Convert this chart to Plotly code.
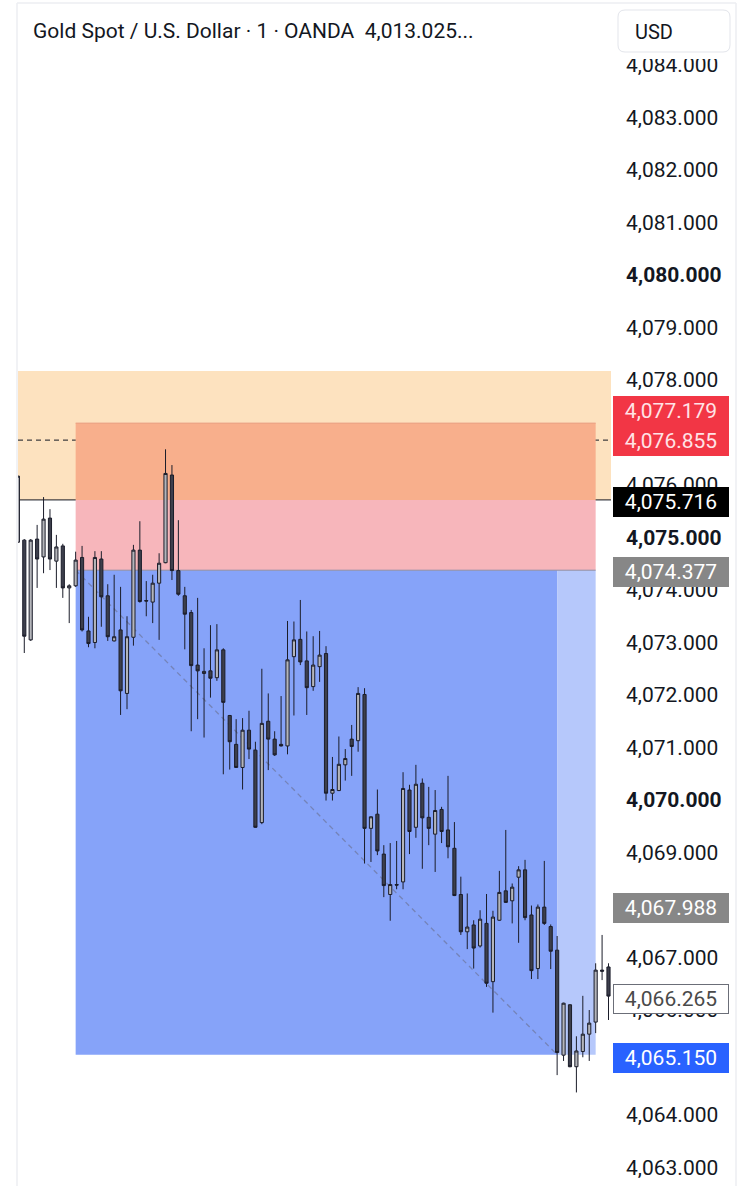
import plotly.graph_objects as go

# ---------------- data ----------------
bar_index = list(range(-1, 92))
open_ = [4074.91, 4074.95, 4073.05, 4074.97, 4074.63, 4075.37, 4074.55, 4074.84, 4074.04, 4074.08,
         4074.62, 4073.22, 4073.00, 4074.59, 4073.89, 4073.03, 4073.24, 4072.03, 4073.10, 4074.76,
         4073.80, 4073.77, 4074.13, 4074.52, 4076.19, 4074.37, 4073.89, 4073.57, 4072.57, 4072.41,
         4072.46, 4072.33, 4072.86, 4071.61, 4071.06, 4070.62, 4071.33, 4070.95, 4069.57, 4071.50,
         4071.16, 4071.06, 4071.03, 4072.73, 4073.06, 4072.65, 4072.16, 4072.54, 4072.79, 4070.13,
         4070.18, 4070.67, 4071.16, 4071.13, 4072.01, 4069.46, 4069.73, 4068.97, 4068.20, 4068.39,
         4068.44, 4070.19, 4069.48, 4070.32, 4069.67, 4069.35, 4069.82, 4069.43, 4069.08, 4068.20,
         4067.49, 4067.62, 4067.22, 4067.65, 4066.54, 4067.71, 4068.27, 4068.08, 4068.53, 4068.67,
         4067.81, 4066.79, 4067.96, 4067.59, 4067.14, 4065.14, 4066.10, 4064.92, 4065.21, 4065.54,
         4065.77, 4066.76, 4066.82]
high = [4076.17, 4074.97, 4074.97, 4075.24, 4075.77, 4075.54, 4075.05, 4074.88, 4074.11, 4074.73,
        4074.84, 4073.49, 4074.74, 4074.74, 4074.11, 4074.29, 4074.06, 4073.50, 4074.86, 4075.31,
        4074.17, 4074.29, 4074.70, 4076.68, 4076.38, 4075.33, 4074.06, 4073.62, 4073.85, 4072.89,
        4073.33, 4073.35, 4072.89, 4071.62, 4071.54, 4071.56, 4071.70, 4071.11, 4072.50, 4072.03,
        4071.31, 4071.98, 4073.41, 4073.40, 4073.81, 4073.21, 4073.12, 4073.22, 4072.93, 4070.82,
        4071.21, 4070.97, 4071.43, 4072.15, 4072.13, 4069.69, 4070.20, 4069.14, 4069.18, 4069.22,
        4070.53, 4070.29, 4070.67, 4070.41, 4070.25, 4070.19, 4069.87, 4070.46, 4069.58, 4068.54,
        4068.22, 4067.71, 4067.90, 4068.21, 4067.89, 4068.65, 4069.43, 4068.41, 4068.74, 4068.86,
        4067.99, 4068.01, 4068.84, 4067.63, 4067.41, 4066.14, 4066.11, 4065.50, 4066.27, 4066.00,
        4066.89, 4067.43, 4066.89]
low = [4074.91, 4072.80, 4073.03, 4074.04, 4074.32, 4074.38, 4074.04, 4073.85, 4073.37, 4074.06,
       4073.21, 4072.91, 4072.89, 4073.30, 4073.03, 4073.02, 4071.62, 4071.73, 4072.94, 4073.76,
       4073.50, 4073.37, 4073.05, 4074.51, 4074.19, 4073.89, 4072.87, 4071.31, 4071.54, 4071.19,
       4071.95, 4072.27, 4070.49, 4070.58, 4070.61, 4070.20, 4070.78, 4069.47, 4069.54, 4070.57,
       4070.84, 4071.02, 4070.87, 4071.61, 4072.57, 4071.62, 4072.08, 4072.25, 4069.99, 4069.99,
       4070.17, 4070.37, 4070.46, 4070.92, 4068.79, 4068.82, 4068.95, 4068.15, 4067.70, 4068.30,
       4068.30, 4068.97, 4069.28, 4068.69, 4069.14, 4068.63, 4069.18, 4068.89, 4068.17, 4067.43,
       4067.16, 4066.79, 4067.19, 4066.44, 4065.95, 4067.70, 4068.04, 4067.65, 4067.28, 4067.71,
       4066.59, 4066.59, 4067.62, 4066.78, 4064.76, 4065.03, 4064.91, 4064.43, 4065.10, 4065.03,
       4065.56, 4066.57, 4065.81]
close = [4076.17, 4073.12, 4074.95, 4074.59, 4075.35, 4074.59, 4074.82, 4074.04, 4074.08, 4074.57,
         4073.24, 4072.98, 4074.62, 4073.87, 4073.11, 4073.11, 4072.08, 4073.11, 4074.76, 4073.78,
         4073.79, 4074.13, 4074.51, 4076.22, 4074.37, 4073.92, 4073.54, 4072.56, 4072.46, 4072.45,
         4072.32, 4072.86, 4071.86, 4071.11, 4070.62, 4071.33, 4070.97, 4069.48, 4071.46, 4071.16,
         4070.86, 4071.03, 4072.67, 4073.05, 4072.63, 4072.14, 4072.57, 4072.76, 4070.13, 4070.20,
         4070.68, 4070.79, 4071.02, 4072.03, 4069.46, 4069.68, 4069.03, 4068.37, 4068.39, 4068.38,
         4070.22, 4069.40, 4070.30, 4069.66, 4069.46, 4069.80, 4069.40, 4069.11, 4068.18, 4067.49,
         4067.58, 4067.18, 4067.73, 4066.51, 4067.77, 4068.24, 4068.05, 4068.34, 4068.67, 4067.76,
         4066.75, 4067.96, 4067.65, 4067.12, 4065.19, 4066.13, 4064.92, 4065.22, 4065.54, 4065.75,
         4066.76, 4066.74, 4066.265]

# tick levels visible on the price scale (4,077 / 4,068 / 4,065 are hidden under price tags)
tick_values = [4063, 4064, 4066, 4067, 4069, 4070, 4071, 4072, 4073, 4074, 4075, 4076,
               4078, 4079, 4080, 4081, 4082, 4083, 4084]
bold_ticks = [4070, 4075, 4080]

entry_price = 4074.377
stop_price = 4077.179
target_price = 4065.150
level_line = 4075.716
dashed_level = 4076.855
zone_top = 4078.17
marker_price = 4067.988
last_price = 4066.265
pos_start, pos_now, pos_end = 8, 83, 89

title_text = "Gold Spot / U.S. Dollar · 1 · OANDA  4,013.025..."
currency = "USD"

# ---------------- figure ----------------
W, H = 755, 1186
PL, PR = 18, 611          # plot left / right in px
FONT = "Roboto"
INK = "#131722"


def px_x(p):
    return p / W


def px_y(p):
    return 1 - p / H


def fmt(v):
    return f"{v:,.3f}"


fig = go.Figure()
fig.add_trace(go.Candlestick(
    x=bar_index, open=open_, high=high, low=low, close=close,
    increasing=dict(fillcolor="#B4B5BA", line=dict(color="#1B1D2A", width=1)),
    decreasing=dict(fillcolor="#3D3F4C", line=dict(color="#1B1D2A", width=1)),
    whiskerwidth=0, showlegend=False, hoverinfo="skip",
))

shapes = []
# orange zone spanning the whole pane
shapes.append(dict(type="rect", xref="x domain", yref="y", x0=0, x1=1,
                   y0=level_line, y1=zone_top, fillcolor="#FDE2BF",
                   line=dict(width=0), layer="below"))
# stop area of short position
shapes.append(dict(type="rect", xref="x", yref="y", x0=pos_start, x1=pos_end,
                   y0=level_line, y1=stop_price, fillcolor="#F8AF8C",
                   line=dict(width=0), layer="below"))
shapes.append(dict(type="rect", xref="x", yref="y", x0=pos_start, x1=pos_end,
                   y0=entry_price, y1=level_line, fillcolor="#F7B6BB",
                   line=dict(width=0), layer="below"))
# target area
shapes.append(dict(type="rect", xref="x", yref="y", x0=pos_start, x1=pos_now,
                   y0=target_price, y1=entry_price, fillcolor="#86A3F9",
                   line=dict(width=0), layer="below"))
shapes.append(dict(type="rect", xref="x", yref="y", x0=pos_now, x1=pos_end,
                   y0=target_price, y1=entry_price, fillcolor="#B6C8FB",
                   line=dict(width=0), layer="below"))
shapes.append(dict(type="line", xref="x", yref="y", x0=pos_start, x1=pos_end,
                   y0=entry_price, y1=entry_price, line=dict(color="#8E8CA2", width=1), layer="below"))
shapes.append(dict(type="line", xref="x", yref="y", x0=pos_start, x1=pos_end,
                   y0=stop_price, y1=stop_price, line=dict(color="#E9A084", width=1), layer="below"))
# diagonal of position tool
shapes.append(dict(type="line", xref="x", yref="y", x0=pos_start, x1=pos_now,
                   y0=entry_price, y1=target_price,
                   line=dict(color="rgba(105,110,140,0.6)", width=1.3, dash="5px,4px"), layer="below"))
# horizontal lines
shapes.append(dict(type="line", xref="x domain", yref="y", x0=0, x1=1,
                   y0=level_line, y1=level_line, line=dict(color=INK, width=1), layer="below"))
shapes.append(dict(type="line", xref="x domain", yref="y", x0=0, x1=1,
                   y0=dashed_level, y1=dashed_level,
                   line=dict(color=INK, width=1, dash="5px,4px"), layer="below"))

# header cover + borders (above everything)
shapes.append(dict(type="rect", xref="paper", yref="paper", x0=px_x(PL), x1=px_x(734),
                   y0=px_y(59), y1=px_y(3.5), fillcolor="white", line=dict(width=0), layer="above"))
for (x0, y0, x1, y1) in [(17, 3, 17, H), (17, 3, 736, 3), (736, 3, 736, H)]:
    shapes.append(dict(type="line", xref="paper", yref="paper", x0=px_x(x0), x1=px_x(x1),
                       y0=px_y(y0), y1=px_y(y1), line=dict(color="#ECEEF2", width=1.5), layer="above"))


def rounded(x0, y0, x1, y1, r):
    X = lambda v: f"{px_x(v):.6f}"
    Y = lambda v: f"{px_y(v):.6f}"
    return (f"M {X(x0 + r)},{Y(y0)} L {X(x1 - r)},{Y(y0)} Q {X(x1)},{Y(y0)} {X(x1)},{Y(y0 + r)} "
            f"L {X(x1)},{Y(y1 - r)} Q {X(x1)},{Y(y1)} {X(x1 - r)},{Y(y1)} "
            f"L {X(x0 + r)},{Y(y1)} Q {X(x0)},{Y(y1)} {X(x0)},{Y(y1 - r)} "
            f"L {X(x0)},{Y(y0 + r)} Q {X(x0)},{Y(y0)} {X(x0 + r)},{Y(y0)} Z")


shapes.append(dict(type="path", xref="paper", yref="paper", path=rounded(618, 10, 730, 52, 7),
                   fillcolor="white", line=dict(color="#E3E5EB", width=1), layer="above"))

annotations = [
    dict(text=title_text, xref="paper", yref="paper", x=px_x(31), y=px_y(31),
         xanchor="left", yanchor="middle", showarrow=False,
         font=dict(family=FONT, size=21, color=INK)),
    dict(text=currency, xref="paper", yref="paper", x=px_x(633), y=px_y(32),
         xanchor="left", yanchor="middle", showarrow=False,
         font=dict(family=FONT, size=20, color=INK)),
]

labels = [
    (stop_price, "#F23645", "#FFE3E6", "#F23645", 12),
    (dashed_level, "#F23645", "#FFE3E6", "#F23645", -1),
    (level_line, "#000000", "#FFFFFF", "#000000", -2),
    (entry_price, "#878787", "#FFFFFF", "#878787", -2),
    (marker_price, "#878787", "#FFFFFF", "#878787", -2),
    (last_price, "#FFFFFF", "#4A4A4A", "#6B6E78", -3),
    (target_price, "#2962FF", "#FFFFFF", "#2962FF", -3),
]
for price, bg, fg, bc, shift in labels:
    annotations.append(dict(
        text=fmt(price), xref="paper", yref="y", x=px_x(613), y=price, yshift=shift,
        xanchor="left", yanchor="middle", showarrow=False, align="center",
        width=110, height=24, borderpad=2, borderwidth=1, bgcolor=bg, bordercolor=bc,
        font=dict(family=FONT, size=21, color=fg)))

ticktext = [f"<b>{fmt(v)}</b>" if v in bold_ticks else fmt(v) for v in tick_values]

fig.update_layout(
    width=W, height=H, margin=dict(l=0, r=0, t=0, b=0),
    paper_bgcolor="white", plot_bgcolor="white",
    shapes=shapes, annotations=annotations, showlegend=False,
    xaxis=dict(domain=[px_x(PL), px_x(PR)], range=[-0.98, 91.39], visible=False,
               rangeslider=dict(visible=False), fixedrange=True),
    yaxis=dict(domain=[0, 1], range=[4062.648, 4085.238], side="right", anchor="x",
               tickvals=tick_values, ticktext=ticktext, showgrid=False, zeroline=False,
               showline=False, ticks="", ticklabelstandoff=14, automargin=False,
               tickfont=dict(family=FONT, size=21, color=INK), fixedrange=True),
    boxgap=0.3,
)

fig.write_html("out.html")
